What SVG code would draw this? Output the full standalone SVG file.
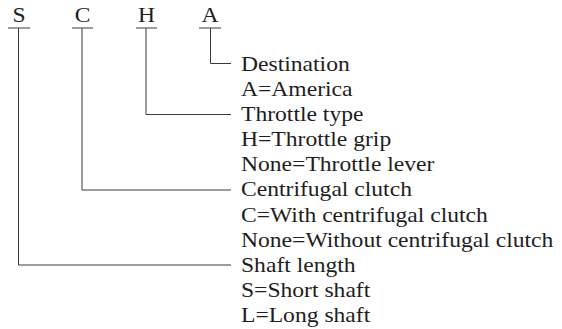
<svg xmlns="http://www.w3.org/2000/svg" width="562" height="329" viewBox="0 0 562 329">
<style>
.t{font-family:'Liberation Serif','DejaVu Serif',serif;font-size:20px;fill:#1e1e1e}
.c{text-anchor:middle}
.ln{stroke:#3a3a3a;stroke-width:1;fill:none}
</style>
<rect width="562" height="329" fill="#fff"/>
<g id="connectors">
<path class="ln" d="M8,28H30M18.5,28V265H231"/>
<path class="ln" d="M72,28H93M82,28V190H231"/>
<path class="ln" d="M136,28H157M146,28V114.5H231"/>
<path class="ln" d="M199,28H221M210.5,28V63.5H231"/>
</g>
<g id="code-S"><text class="t c" transform="translate(19,22) scale(1.18,1)">S</text></g>
<g id="code-C"><text class="t c" transform="translate(82.5,22) scale(1.18,1)">C</text></g>
<g id="code-H"><text class="t c" transform="translate(146.5,22) scale(1.18,1)">H</text></g>
<g id="code-A"><text class="t c" transform="translate(210,22) scale(1.18,1)">A</text></g>
<g id="destination" transform="translate(241,0) scale(1.18,1)">
<text class="t" x="0" y="71">Destination</text>
<text class="t" x="0" y="96">A=America</text>
</g>
<g id="throttle" transform="translate(241,0) scale(1.18,1)">
<text class="t" x="0" y="121.2">Throttle type</text>
<text class="t" x="0" y="146.3">H=Throttle grip</text>
<text class="t" x="0" y="171.4">None=Throttle lever</text>
</g>
<g id="clutch" transform="translate(241,0) scale(1.18,1)">
<text class="t" x="0" y="196.5">Centrifugal clutch</text>
<text class="t" x="0" y="221.6">C=With centrifugal clutch</text>
<text class="t" x="0" y="246.7">None=Without centrifugal clutch</text>
</g>
<g id="shaft" transform="translate(241,0) scale(1.18,1)">
<text class="t" x="0" y="271.8">Shaft length</text>
<text class="t" x="0" y="296.9">S=Short shaft</text>
<text class="t" x="0" y="322">L=Long shaft</text>
</g>
</svg>
